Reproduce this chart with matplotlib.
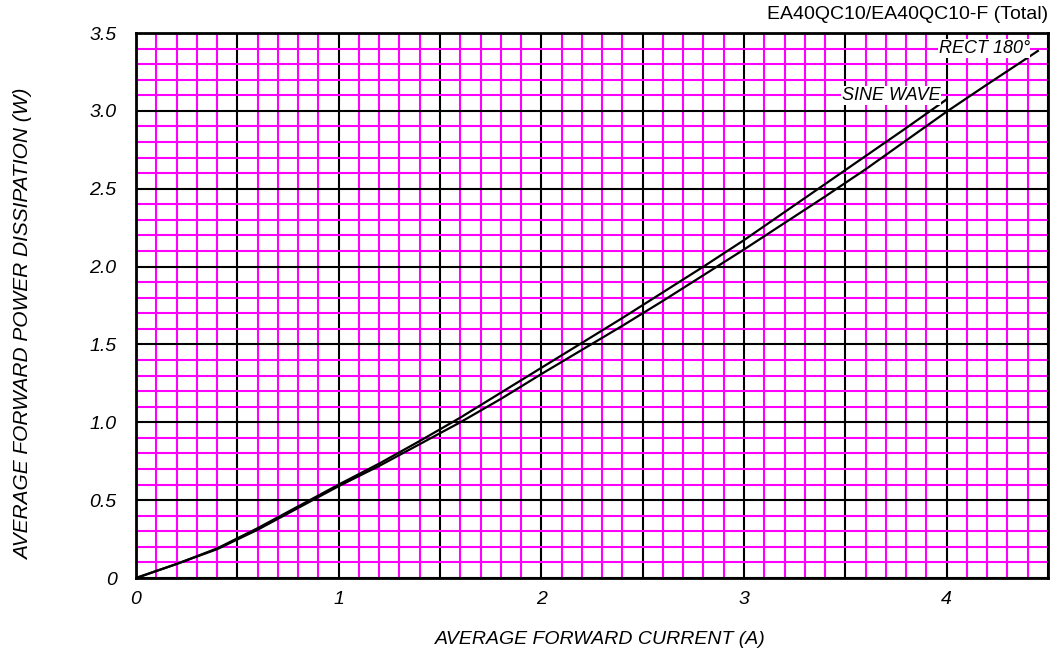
import matplotlib
matplotlib.use("Agg")
import matplotlib.pyplot as plt
from matplotlib.ticker import FixedLocator, MultipleLocator

plt.rcParams['font.family'] = ['Liberation Sans', 'DejaVu Sans']

# Data
sine_x = [0, 0.2, 0.4, 0.6, 0.8, 1.0, 1.2, 1.4, 1.6, 1.8, 2.0, 2.2, 2.4, 2.6, 2.8, 3.0, 3.2, 3.4, 3.6, 3.8, 4.0]
sine_y = [0, 0.09, 0.19, 0.32, 0.46, 0.60, 0.735, 0.88, 1.03, 1.19, 1.35, 1.51, 1.67, 1.835, 2.0, 2.17, 2.35, 2.53, 2.71, 2.89, 3.074]
rect_x = [0, 0.2, 0.4, 0.6, 0.8, 1.0, 1.2, 1.4, 1.6, 1.8, 2.0, 2.2, 2.4, 2.6, 2.8, 3.0, 3.2, 3.4, 3.6, 3.8, 4.0, 4.2, 4.45]
rect_y = [0, 0.09, 0.185, 0.31, 0.45, 0.59, 0.72, 0.86, 1.00, 1.15, 1.31, 1.465, 1.62, 1.78, 1.945, 2.11, 2.28, 2.45, 2.625, 2.81, 2.995, 3.17, 3.385]

x_major = [0, 0.5, 1, 1.5, 2, 2.5, 3, 3.5, 4, 4.5]
x_labels = ['0', '', '1', '', '2', '', '3', '', '4', '']
y_major = [0, 0.5, 1.0, 1.5, 2.0, 2.5, 3.0, 3.5]
y_labels = ['0', '0.5', '1.0', '1.5', '2.0', '2.5', '3.0', '3.5']

title = 'EA40QC10/EA40QC10-F (Total)'
xlabel = 'AVERAGE FORWARD CURRENT (A)'
ylabel = 'AVERAGE FORWARD POWER DISSIPATION (W)'

fig = plt.figure(figsize=(10.57, 6.54), dpi=100)
ax = fig.add_axes([0.1287, 0.1162, 0.8628, 0.8333])
ax.set_xlim(0, 4.5)
ax.set_ylim(0, 3.5)

ax.xaxis.set_major_locator(FixedLocator(x_major))
ax.set_xticklabels(x_labels)
ax.yaxis.set_major_locator(FixedLocator(y_major))
ax.set_yticklabels(y_labels)
ax.xaxis.set_minor_locator(MultipleLocator(0.1))
ax.yaxis.set_minor_locator(MultipleLocator(0.1))

ax.grid(which='minor', color='#FF00FF', linewidth=1.5, zorder=0)
ax.grid(which='major', color='black', linewidth=1.5, zorder=1)
ax.set_axisbelow(True)
ax.tick_params(which='both', length=0)
ax.tick_params(axis='x', pad=9, labelsize=14)
ax.tick_params(axis='y', pad=14, labelsize=14)
for lab in ax.get_xticklabels() + ax.get_yticklabels():
    lab.set_fontstyle('italic')
for s in ax.spines.values():
    s.set_linewidth(2)
    s.set_zorder(5)

ax.plot(sine_x, sine_y, color='black', linewidth=1.6, zorder=3)
ax.plot(rect_x, rect_y, color='black', linewidth=1.6, zorder=3)

bbox = dict(facecolor='white', edgecolor='none', pad=0.5)
ax.text(3.97, 3.10, 'SINE WAVE', ha='right', va='center', fontsize=13,
        fontstyle='italic', bbox=bbox, zorder=4)
ax.text(4.41, 3.40, 'RECT 180°', ha='right', va='center', fontsize=13,
        fontstyle='italic', bbox=bbox, zorder=4)

ax.set_xlabel(xlabel, fontsize=14, fontstyle='italic')
ax.xaxis.set_label_coords(0.509, -0.097, transform=ax.transAxes)
ax.set_ylabel(ylabel, fontsize=15, fontstyle='italic')
ax.yaxis.set_label_coords(-0.113, 0.466, transform=ax.transAxes)
fig.text(0.9915, 0.978, title, ha='right', va='center', fontsize=14)

fig.savefig('out.png', dpi=100)
